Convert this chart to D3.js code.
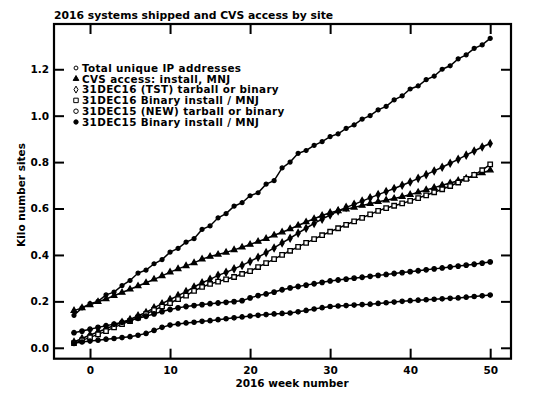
<!DOCTYPE html>
<html>
<head>
<meta charset="utf-8">
<script src="https://cdn.jsdelivr.net/npm/d3@7"></script>
<style>
  body { margin: 0; background: #fff; }
  text { font-family: 'DejaVu Sans', sans-serif; font-weight: bold; fill: #000; }
</style>
</head>
<body>
<div id="chart"></div>
<script>
// weeks -2 .. 50
const weeks = d3.range(-2, 51)

const totalIP = [0.140, 0.172, 0.190, 0.200, 0.228, 0.240, 0.268, 0.290, 0.322, 0.335,
  0.362, 0.380, 0.412, 0.428, 0.455, 0.470, 0.510, 0.525, 0.560, 0.578,
  0.610, 0.625, 0.655, 0.668, 0.705, 0.720, 0.775, 0.800, 0.838, 0.850,
  0.872, 0.888, 0.910, 0.922, 0.945, 0.960, 0.985, 1.000, 1.025, 1.040,
  1.068, 1.085, 1.115, 1.128, 1.155, 1.170, 1.200, 1.215, 1.245, 1.262,
  1.290, 1.305, 1.333]

const cvsAccess = [0.160, 0.172, 0.185, 0.198, 0.210, 0.224, 0.238, 0.252, 0.266, 0.280,
  0.295, 0.310, 0.326, 0.340, 0.353, 0.366, 0.382, 0.393, 0.402, 0.411,
  0.422, 0.433, 0.445, 0.458, 0.470, 0.485, 0.498, 0.512, 0.527, 0.542,
  0.556, 0.570, 0.582, 0.590, 0.597, 0.605, 0.613, 0.621, 0.629, 0.636,
  0.643, 0.651, 0.660, 0.670, 0.680, 0.690, 0.700, 0.710, 0.720, 0.730,
  0.741, 0.753, 0.765]

const tst16 = [0.025, 0.040, 0.055, 0.068, 0.082, 0.096, 0.110, 0.122, 0.138, 0.152,
  0.172, 0.190, 0.208, 0.225, 0.242, 0.262, 0.280, 0.295, 0.312, 0.325,
  0.340, 0.355, 0.372, 0.390, 0.410, 0.430, 0.452, 0.472, 0.494, 0.515,
  0.536, 0.554, 0.572, 0.590, 0.605, 0.618, 0.632, 0.646, 0.660, 0.673,
  0.686, 0.700, 0.714, 0.730, 0.746, 0.762, 0.778, 0.795, 0.812, 0.830,
  0.848, 0.865, 0.880]

const binary16 = [0.020, 0.032, 0.045, 0.058, 0.072, 0.088, 0.102, 0.115, 0.130, 0.145,
  0.162, 0.178, 0.192, 0.210, 0.225, 0.245, 0.262, 0.275, 0.285, 0.295,
  0.305, 0.318, 0.330, 0.348, 0.365, 0.382, 0.400, 0.418, 0.435, 0.452,
  0.468, 0.485, 0.500, 0.515, 0.530, 0.545, 0.560, 0.575, 0.590, 0.602,
  0.612, 0.622, 0.633, 0.645, 0.657, 0.670, 0.683, 0.697, 0.712, 0.728,
  0.745, 0.765, 0.790]

const new15 = [0.065, 0.072, 0.080, 0.088, 0.095, 0.102, 0.110, 0.118, 0.127, 0.136,
  0.146, 0.156, 0.165, 0.172, 0.178, 0.182, 0.186, 0.190, 0.193, 0.196,
  0.199, 0.203, 0.215, 0.225, 0.232, 0.240, 0.250, 0.258, 0.264, 0.270,
  0.276, 0.282, 0.288, 0.292, 0.296, 0.300, 0.304, 0.308, 0.312, 0.316,
  0.320, 0.324, 0.328, 0.332, 0.336, 0.340, 0.344, 0.348, 0.352, 0.356,
  0.360, 0.365, 0.370]

const binary15 = [0.020, 0.025, 0.029, 0.033, 0.037, 0.040, 0.044, 0.048, 0.054, 0.062,
  0.075, 0.088, 0.098, 0.103, 0.107, 0.110, 0.114, 0.117, 0.121, 0.125,
  0.129, 0.133, 0.137, 0.140, 0.143, 0.146, 0.148, 0.150, 0.155, 0.161,
  0.167, 0.173, 0.178, 0.180, 0.182, 0.184, 0.186, 0.188, 0.191, 0.194,
  0.197, 0.200, 0.203, 0.205, 0.207, 0.209, 0.211, 0.213, 0.215, 0.218,
  0.221, 0.224, 0.227]

const seriesNames = ['Total unique IP addresses', 'CVS access: install, MNJ',
  '31DEC16 (TST) tarball or binary', '31DEC16 Binary install / MNJ',
  '31DEC15 (NEW) tarball or binary', '31DEC15 Binary install / MNJ']
const seriesValues = [totalIP, cvsAccess, tst16, binary16, new15, binary15]

const xTicks = [0, 10, 20, 30, 40, 50]
const yTicks = [0.0, 0.2, 0.4, 0.6, 0.8, 1.0, 1.2]

// marker look per series (legend shows open ones, plotted points come out nearly solid)
const markers = [
  { type: d3.symbolCircle, size: 12, fill: '#fff', plotFill: '#000' },
  { type: d3.symbolTriangle, size: 14, fill: '#000', plotFill: '#000' },
  { type: d3.symbolDiamond, size: 14, fill: '#fff', plotFill: '#000' },
  { type: d3.symbolSquare, size: 20, fill: '#fff', plotFill: '#fff' },
  { type: d3.symbolCircle, size: 16, fill: '#fff', plotFill: '#000' },
  { type: d3.symbolCircle, size: 15, fill: '#000', plotFill: '#000' }
]

const width = 540,
  height = 397,
  plotLeft = 54,
  plotRight = 511,
  plotTop = 24,
  plotBottom = 358.7

const svg = d3.select('#chart')
  .append('svg')
  .attr('width', width)
  .attr('height', height)

const x = d3.scaleLinear().domain([-4.5, 52.6]).range([plotLeft, plotRight])
const y = d3.scaleLinear().domain([-0.047, 1.395]).range([plotBottom, plotTop])

// axes, ticks pointing inward on all four sides
const styleAxis = (g) => {
  g.select('.domain').remove()
  g.selectAll('.tick line').attr('stroke', '#000').attr('stroke-width', 2)
  g.selectAll('.tick text').style('font-size', '10.5px')
    .style('font-family', "'DejaVu Sans', sans-serif").style('font-weight', 'bold')
}

svg.append('g')
  .attr('transform', `translate(0,${plotBottom})`)
  .call(d3.axisBottom(x).tickValues(xTicks).tickSizeInner(-10).tickSizeOuter(0).tickPadding(8))
  .call(styleAxis)

svg.append('g')
  .attr('transform', `translate(0,${plotTop})`)
  .call(d3.axisTop(x).tickValues(xTicks).tickSizeInner(-10).tickSizeOuter(0).tickFormat(''))
  .call(styleAxis)

svg.append('g')
  .attr('transform', `translate(${plotLeft},0)`)
  .call(d3.axisLeft(y).tickValues(yTicks).tickSizeInner(-10).tickSizeOuter(0).tickPadding(5).tickFormat(d3.format('.1f')))
  .call(styleAxis)

svg.append('g')
  .attr('transform', `translate(${plotRight},0)`)
  .call(d3.axisRight(y).tickValues(yTicks).tickSizeInner(-10).tickSizeOuter(0).tickFormat(''))
  .call(styleAxis)

// frame
svg.append('rect')
  .attr('x', plotLeft)
  .attr('y', plotTop)
  .attr('width', plotRight - plotLeft)
  .attr('height', plotBottom - plotTop)
  .attr('fill', 'none')
  .attr('stroke', '#000')
  .attr('stroke-width', 2.2)

const line = d3.line()
  .x((d, i) => x(weeks[i]))
  .y((d) => y(d))

seriesValues.forEach((vals, s) => {
  svg.append('path')
    .attr('d', line(vals))
    .attr('fill', 'none')
    .attr('stroke', '#000')
    .attr('stroke-width', 1.5)

  const sym = d3.symbol().type(markers[s].type).size(markers[s].size)
  svg.append('g').selectAll('path')
    .data(vals)
    .enter()
    .append('path')
    .attr('d', sym)
    .attr('transform', (d, i) => `translate(${x(weeks[i])},${y(d)})`)
    .attr('fill', markers[s].plotFill)
    .attr('stroke', '#000')
    .attr('stroke-width', 1.3)
})

// legend
const legend = svg.append('g')
seriesNames.forEach((name, s) => {
  const ly = 68 + s * 10.8
  legend.append('path')
    .attr('d', d3.symbol().type(markers[s].type).size(markers[s].size)())
    .attr('transform', `translate(76,${ly})`)
    .attr('fill', markers[s].fill)
    .attr('stroke', '#000')
    .attr('stroke-width', 1)
  legend.append('text')
    .attr('x', 82)
    .attr('y', ly + 3.8)
    .style('font-size', '10.4px')
    .style('letter-spacing', '0.35px')
    .text(name)
})

// titles
svg.append('text')
  .attr('x', 54)
  .attr('y', 18.5)
  .style('font-size', '10.8px')
  .text('2016 systems shipped and CVS access by site')

svg.append('text')
  .attr('x', 292)
  .attr('y', 387)
  .attr('text-anchor', 'middle')
  .style('font-size', '10.5px')
  .text('2016 week number')

svg.append('text')
  .attr('transform', 'translate(25,195) rotate(-90)')
  .attr('text-anchor', 'middle')
  .style('font-size', '10.5px')
  .text('Kilo number sites')
</script>
</body>
</html>
